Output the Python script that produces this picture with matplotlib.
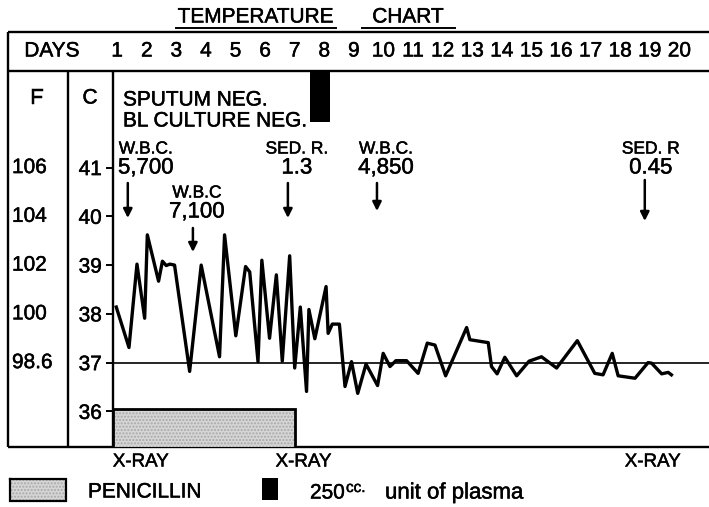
import matplotlib
matplotlib.use('Agg')
import matplotlib.pyplot as plt
from matplotlib.patches import Rectangle
from matplotlib.transforms import blended_transform_factory as blend, offset_copy
import matplotlib.patheffects as pe

plt.rcParams['font.family'] = ['Liberation Sans', 'DejaVu Sans']
HEAVY = [pe.withStroke(linewidth=0.35, foreground='k')]

# ---------------- data ----------------
days = list(range(1, 21))
time_days = [0.97, 1.40, 1.67, 1.93, 2.02, 2.40, 2.53, 2.66, 2.78, 2.94,
             3.45, 3.84, 4.46, 4.63, 5.01, 5.34, 5.48, 5.76, 5.89, 6.15,
             6.38, 6.58, 6.83, 7.00, 7.19, 7.40, 7.48, 7.68, 8.06, 8.13,
             8.27, 8.51, 8.70, 8.92, 9.13, 9.41, 9.80, 9.99, 10.22, 10.42,
             10.78, 11.17, 11.48, 11.74, 12.10, 12.81, 12.92, 13.54, 13.65, 13.84,
             14.10, 14.50, 14.92, 15.06, 15.34, 15.85, 16.55, 17.14, 17.42, 17.73,
             17.93, 18.50, 18.94, 19.06, 19.40, 19.62, 19.73]
temp_c = [38.14, 37.31, 39.02, 37.91, 39.62, 38.67, 39.08, 38.99, 39.02, 39.00,
          36.82, 39.00, 37.12, 39.62, 37.55, 38.97, 38.86, 37.02, 39.10, 37.50,
          38.80, 37.03, 39.19, 36.89, 38.14, 36.41, 38.09, 37.49, 38.56, 37.60,
          37.79, 37.79, 36.51, 37.02, 36.37, 36.97, 36.53, 37.19, 36.92, 37.04,
          37.04, 36.78, 37.40, 37.36, 36.73, 37.72, 37.47, 37.41, 36.92, 36.77,
          37.11, 36.73, 37.03, 37.06, 37.12, 36.89, 37.45, 36.78, 36.75, 37.19,
          36.73, 36.68, 37.00, 36.99, 36.77, 36.80, 36.75]

c_ticks = [41, 40, 39, 38, 37, 36]
c_labels = ['41', '40', '39', '38', '37', '36']
f_labels = ['106', '104', '102', '100', '98.6']
f_at_c = [41, 40, 39, 38, 37]
normal_c = 37

note_titles = ['W.B.C.', 'W.B.C', 'SED. R.', 'W.B.C.', 'SED. R']
note_values = ['5,700', '7,100', '1.3', '4,850', '0.45']
note_days = [1.36, 3.56, 6.77, 9.78, 18.83]

penicillin_end_day = 7.0
penicillin_top_c = 36.05
plasma_day = 7.85
plasma_bottom_c = 41.93
xray_days = [1.8, 7.3, 19.1]

# ---------------- layout ----------------
W, H = 709, 507
L, R, T, B = 113, 709, 71, 447
fig = plt.figure(figsize=(W / 100, H / 100), dpi=100)
frame = fig.add_axes([0, 0, 1, 1])
frame.set_xlim(0, W)
frame.set_ylim(H, 0)
frame.axis('off')

ax = fig.add_axes([L / W, 1 - B / H, (R - L) / W, (B - T) / H])
ax.set_xlim(0.86, 21.0)
ax.set_ylim(35.27, 42.98)
ax.patch.set_alpha(0)
for s in ax.spines.values():
    s.set_visible(False)
ax.set_xticks([])
ax.set_yticks(c_ticks)
ax.set_yticklabels(c_labels)
ax.tick_params(axis='y', direction='out', length=5, width=1.4, pad=3, labelsize=15)
for lab in ax.get_yticklabels():
    lab.set_path_effects(HEAVY)

trans = blend(ax.transData, frame.transData)   # x: days, y: pixels
ftrans = blend(frame.transData, ax.transData)  # x: pixels, y: deg C


def txt(x, y, s, **kw):
    kw.setdefault('ha', 'center')
    kw.setdefault('va', 'center')
    return frame.text(x, y, s, path_effects=HEAVY, **kw)


lw_frame = 1.7
for xs, ys in [([8, W], [32, 32]), ([8, W], [71, 71]), ([8, 8], [32, B]),
               ([68, 68], [71, B]), ([L, L], [71, B]), ([8, W], [B, B])]:
    frame.plot(xs, ys, color='k', lw=lw_frame, solid_capstyle='butt')

# title
txt(256, 17, 'TEMPERATURE', fontsize=15)
txt(408, 17, 'CHART', fontsize=15)
frame.plot([176, 336], [28, 28], color='k', lw=1.4)
frame.plot([362, 455], [28, 28], color='k', lw=1.4)

# header row
txt(52, 51, 'DAYS', fontsize=15)
for d in days:
    txt(d, 51, str(d), transform=trans, fontsize=15)

txt(37, 98, 'F', fontsize=15)
txt(90, 98, 'C', fontsize=15)
for lab, c in zip(f_labels, f_at_c):
    txt(12, c, lab, transform=ftrans, ha='left', fontsize=15)

txt(123, 100, 'SPUTUM NEG.', ha='left', fontsize=15)
txt(123, 121, 'BL CULTURE NEG.', ha='left', fontsize=15)

# normal line and temperature trace
ax.axhline(normal_c, color='k', lw=1.2)
ax.plot(time_days, temp_c, color='k', lw=2.4, solid_joinstyle='round')

# penicillin and plasma
y0 = ax.get_ylim()[0]
x0 = ax.get_xlim()[0]
ax.fill_between([x0, penicillin_end_day], y0, penicillin_top_c,
                facecolor='#d6d6d6', edgecolor='#a8a8a8', hatch='.....', lw=0, zorder=1)
ax.plot([x0, x0, penicillin_end_day, penicillin_end_day],
        [y0, penicillin_top_c, penicillin_top_c, y0], color='#000000', lw=2.0,
        zorder=5, solid_joinstyle='miter')
ytop = ax.get_ylim()[1]
ax.bar(plasma_day, ytop - plasma_bottom_c, bottom=plasma_bottom_c, width=0.67,
       color='k')

# annotations with arrows
text_dx = [18, 4, 9, 9, 6]
row_y = [(149, 168, 183, 218), (193, 212, 228, 252), (149, 168, 183, 218),
         (149, 168, 183, 211), (149, 168, 180, 221)]
for t, v, d, dx, (yt, yv, ya, yb) in zip(note_titles, note_values, note_days, text_dx, row_y):
    tr = offset_copy(trans, fig=fig, x=dx, y=0, units='dots')
    txt(d, yt, t, transform=tr, fontsize=12.5)
    txt(d, yv, v, transform=tr, fontsize=16)
    frame.annotate('', xy=(d, yb), xytext=(d, ya), xycoords=trans, textcoords=trans,
                   arrowprops=dict(arrowstyle='-|>', color='k', lw=1.8,
                                   mutation_scale=13, shrinkA=0, shrinkB=0))

for d in xray_days:
    txt(d, 462, 'X-RAY', transform=trans, fontsize=13.5)

# legend row
frame.fill_between([10, 66], 479, 501, facecolor='#d6d6d6', edgecolor='#a8a8a8',
                   hatch='.....', lw=0, zorder=1)
frame.plot([10, 66, 66, 10, 10], [479, 479, 501, 501, 479], color='#000000', lw=1.6,
           zorder=5, solid_joinstyle='miter')
txt(88, 492, 'PENICILLIN', ha='left', fontsize=15)
frame.add_patch(Rectangle((262, 478), 16, 22, facecolor='k', edgecolor='k', lw=0))
txt(310, 493, '250', ha='left', fontsize=15)
txt(346, 488, 'cc.', ha='left', fontsize=11)
txt(385, 493, 'unit of plasma', ha='left', fontsize=16)

fig.savefig('out.png', dpi=100, facecolor='white')
